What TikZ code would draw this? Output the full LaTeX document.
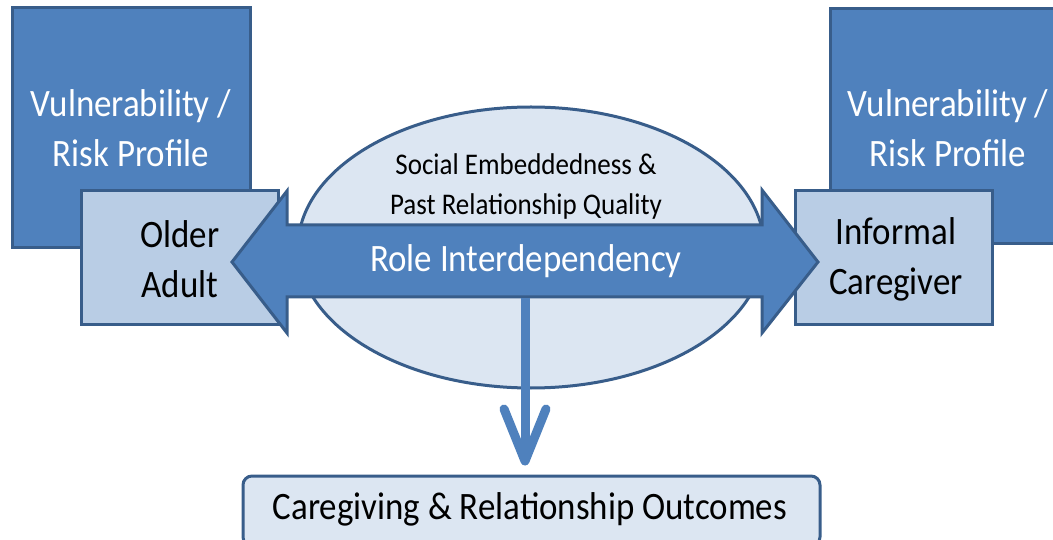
\documentclass[tikz,border=0pt]{standalone}
\usepackage{fontspec}
\setmainfont[FakeStretch=0.9]{Carlito}
\usetikzlibrary{shapes.geometric,arrows.meta}
\definecolor{boxblue}{HTML}{4F81BD}
\definecolor{edgeblue}{HTML}{385D8A}
\definecolor{lightblue}{HTML}{B9CDE5}
\definecolor{paleblue}{HTML}{DCE6F2}
\tikzset{
  riskbox/.style={draw=edgeblue,fill=boxblue,line width=3pt,inner sep=0pt},
  agentbox/.style={draw=edgeblue,fill=lightblue,line width=3pt,inner sep=0pt,
    minimum width=197pt,minimum height=134pt},
  bigtxt/.style={align=center,font=\fontsize{38.8}{50}\selectfont},
  smalltxt/.style={align=center,font=\fontsize{30}{40}\selectfont},
  downarr/.style={draw=boxblue,line width=9pt,shorten >=9pt,
    -{Straight Barb[length=52pt,width=42pt,round]}},
}
\begin{document}
\begin{tikzpicture}[x=1pt,y=-1pt]
\useasboundingbox (0,0) rectangle (1053,540);
% vulnerability boxes
\node[riskbox,minimum width=238pt,minimum height=240pt] (riskl) at (131,128) {};
\node[riskbox,minimum width=236pt,minimum height=235pt] (riskr) at (948,126) {};
\node[bigtxt,white] (riskltxt) at (131,128) {Vulnerability /\\Risk Profile};
\node[bigtxt,white] (riskrtxt) at (948,128) {Vulnerability /\\Risk Profile};
% context ellipse
\node[ellipse,draw=edgeblue,fill=paleblue,line width=3pt,minimum width=466pt,minimum height=281pt] (ctx) at (531,247.5) {};
\node[smalltxt] (ctxtxt) at (526,187) {Social Embeddedness \&\\Past Relationship Quality};
% the dyad
\node[agentbox] (older) at (179.5,258) {};
\node[agentbox] (carer) at (894,258) {};
\node[bigtxt] (oldertxt) at (180,259) {Older\\Adult};
\node[bigtxt] (carertxt) at (896,259) {Informal\\Caregiver};
% double arrow
\draw[draw=edgeblue,fill=boxblue,line width=3pt]
  (232,262) -- (287,191) -- (287,225) -- (762,225) -- (762,190) -- (818,262)
  -- (762,333) -- (762,297) -- (287,297) -- (287,333) -- cycle;
\node[bigtxt,white] (role) at (526,261) {Role Interdependency};
\coordinate (shaftbot) at (525,298.5);
% outcomes
\node[draw=edgeblue,fill=paleblue,line width=3pt,rounded corners=9pt,
  minimum width=577pt,minimum height=70pt,inner sep=0pt] (outc) at (531.5,511) {};
\node[bigtxt] (outctxt) at (530,509) {Caregiving \& Relationship Outcomes};
\draw[downarr] (shaftbot) -- (outc.north -| shaftbot);
\end{tikzpicture}
\end{document}
